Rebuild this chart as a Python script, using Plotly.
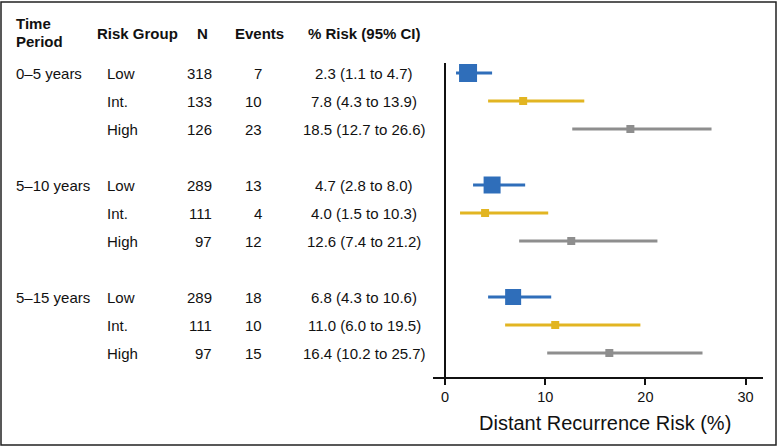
import plotly.graph_objects as go

# ---------------- data ----------------
periods = ["0–5 years", "5–10 years", "5–15 years"]
groups = ["Low", "Int.", "High"]
n_patients = [[318, 133, 126], [289, 111, 97], [289, 111, 97]]
events = [[7, 10, 23], [13, 4, 12], [18, 10, 15]]
risk = [[2.3, 7.8, 18.5], [4.7, 4.0, 12.6], [6.8, 11.0, 16.4]]
ci_low = [[1.1, 4.3, 12.7], [2.8, 1.5, 7.4], [4.3, 6.0, 10.2]]
ci_high = [[4.7, 13.9, 26.6], [8.0, 10.3, 21.2], [10.6, 19.5, 25.7]]
x_ticks = [0, 10, 20, 30]
x_title = "Distant Recurrence Risk (%)"

# ---------------- styles ----------------
colors = {"Low": "#2F6EBA", "Int.": "#E2B522", "High": "#8E8E8E"}
marker_sizes = {"Low": [18, 17, 16], "Int.": [8, 8, 8], "High": [8, 8, 8]}
W, H = 780, 447
L, R, T, B = 433, 17, 63, 70
PW, PH = W - L - R, H - T - B
ROW0, ROWH = 73, 28
FONT = "Liberation Sans, Arial, sans-serif"
TXT = "#111111"


def px2x(px):
    return (px - L) / PW


def py2y(py):
    return (H - B - py) / PH


def row_index(p, g):
    return p * 4 + g


def y_of_px(py):
    return (py - ROW0) / ROWH


fig = go.Figure()

for gi, g in enumerate(groups):
    ys = [row_index(pi, gi) for pi in range(len(periods))]
    xs = [risk[pi][gi] for pi in range(len(periods))]
    plus = [ci_high[pi][gi] - risk[pi][gi] for pi in range(len(periods))]
    minus = [risk[pi][gi] - ci_low[pi][gi] for pi in range(len(periods))]
    fig.add_trace(go.Scatter(
        x=xs, y=ys, mode="markers", name=g, showlegend=False,
        marker=dict(symbol="square", size=marker_sizes[g], color=colors[g],
                    opacity=1, line=dict(width=0)),
        error_x=dict(type="data", symmetric=False, array=plus, arrayminus=minus,
                     color=colors[g], thickness=3, width=0),
    ))

ann = []
# header
hdr_font = dict(family=FONT, size=15, color=TXT)
ann.append(dict(text="<b>Time</b>", x=px2x(14), y=py2y(24), xanchor="left", yanchor="middle"))
ann.append(dict(text="<b>Period</b>", x=px2x(14), y=py2y(42), xanchor="left", yanchor="middle"))
ann.append(dict(text="<b>Risk Group</b>", x=px2x(95), y=py2y(33), xanchor="left", yanchor="middle"))
ann.append(dict(text="<b>N</b>", x=px2x(202), y=py2y(33), xanchor="center", yanchor="middle"))
ann.append(dict(text="<b>Events</b>", x=px2x(259), y=py2y(33), xanchor="center", yanchor="middle"))
ann.append(dict(text="<b>% Risk (95% CI)</b>", x=px2x(364), y=py2y(33), xanchor="center", yanchor="middle"))
for a in ann:
    a.update(xref="paper", yref="paper", showarrow=False, font=hdr_font)

# x-axis title as annotation (centred like the reference)
ann.append(dict(text=x_title, x=px2x(605), y=py2y(423), xref="paper", yref="paper",
                xanchor="center", yanchor="middle", showarrow=False,
                font=dict(family=FONT, size=20, color=TXT)))

row_ann = []
for pi, p in enumerate(periods):
    row_ann.append(dict(text=p, x=px2x(14), y=row_index(pi, 0), xanchor="left"))
    for gi, g in enumerate(groups):
        yy = row_index(pi, gi)
        row_ann.append(dict(text=g, x=px2x(105), y=yy, xanchor="left"))
        row_ann.append(dict(text=str(n_patients[pi][gi]), x=px2x(214), y=yy, xanchor="right"))
        row_ann.append(dict(text=str(events[pi][gi]), x=px2x(264), y=yy, xanchor="right"))
        row_ann.append(dict(
            text=f"{risk[pi][gi]:.1f} ({ci_low[pi][gi]:.1f} to {ci_high[pi][gi]:.1f})",
            x=px2x(364), y=yy, xanchor="center"))
for a in row_ann:
    a.update(xref="paper", yref="y", yanchor="middle", showarrow=False,
             font=dict(family=FONT, size=15, color=TXT))
ann += row_ann

fig.update_layout(
    width=W, height=H,
    margin=dict(l=L, r=R, t=T, b=B, pad=0),
    paper_bgcolor="white", plot_bgcolor="white",
    annotations=ann,
    xaxis=dict(
        range=[(L - 445) / 10.02, (W - R - 445) / 10.02],
        tickvals=x_ticks, ticktext=[str(v) for v in x_ticks],
        showgrid=False, zeroline=True, zerolinecolor="#111111", zerolinewidth=2,
        showline=True, linecolor="#111111", linewidth=2,
        ticks="outside", ticklen=6, tickwidth=1.5, tickcolor="#111111",
        tickfont=dict(family=FONT, size=14.5, color=TXT),
        fixedrange=True,
    ),
    yaxis=dict(
        range=[y_of_px(H - B), y_of_px(T)],
        showgrid=False, zeroline=False, showline=False, showticklabels=False,
        ticks="", fixedrange=True,
    ),
    shapes=[dict(type="rect", xref="paper", yref="paper",
                 x0=px2x(1), x1=px2x(776), y0=py2y(445), y1=py2y(2),
                 line=dict(color="#222222", width=1.5))],
)

fig.write_html(
    "out.html",
    config={"displayModeBar": False},
    post_script="document.body.style.margin='0';document.body.style.overflow='hidden';",
)
